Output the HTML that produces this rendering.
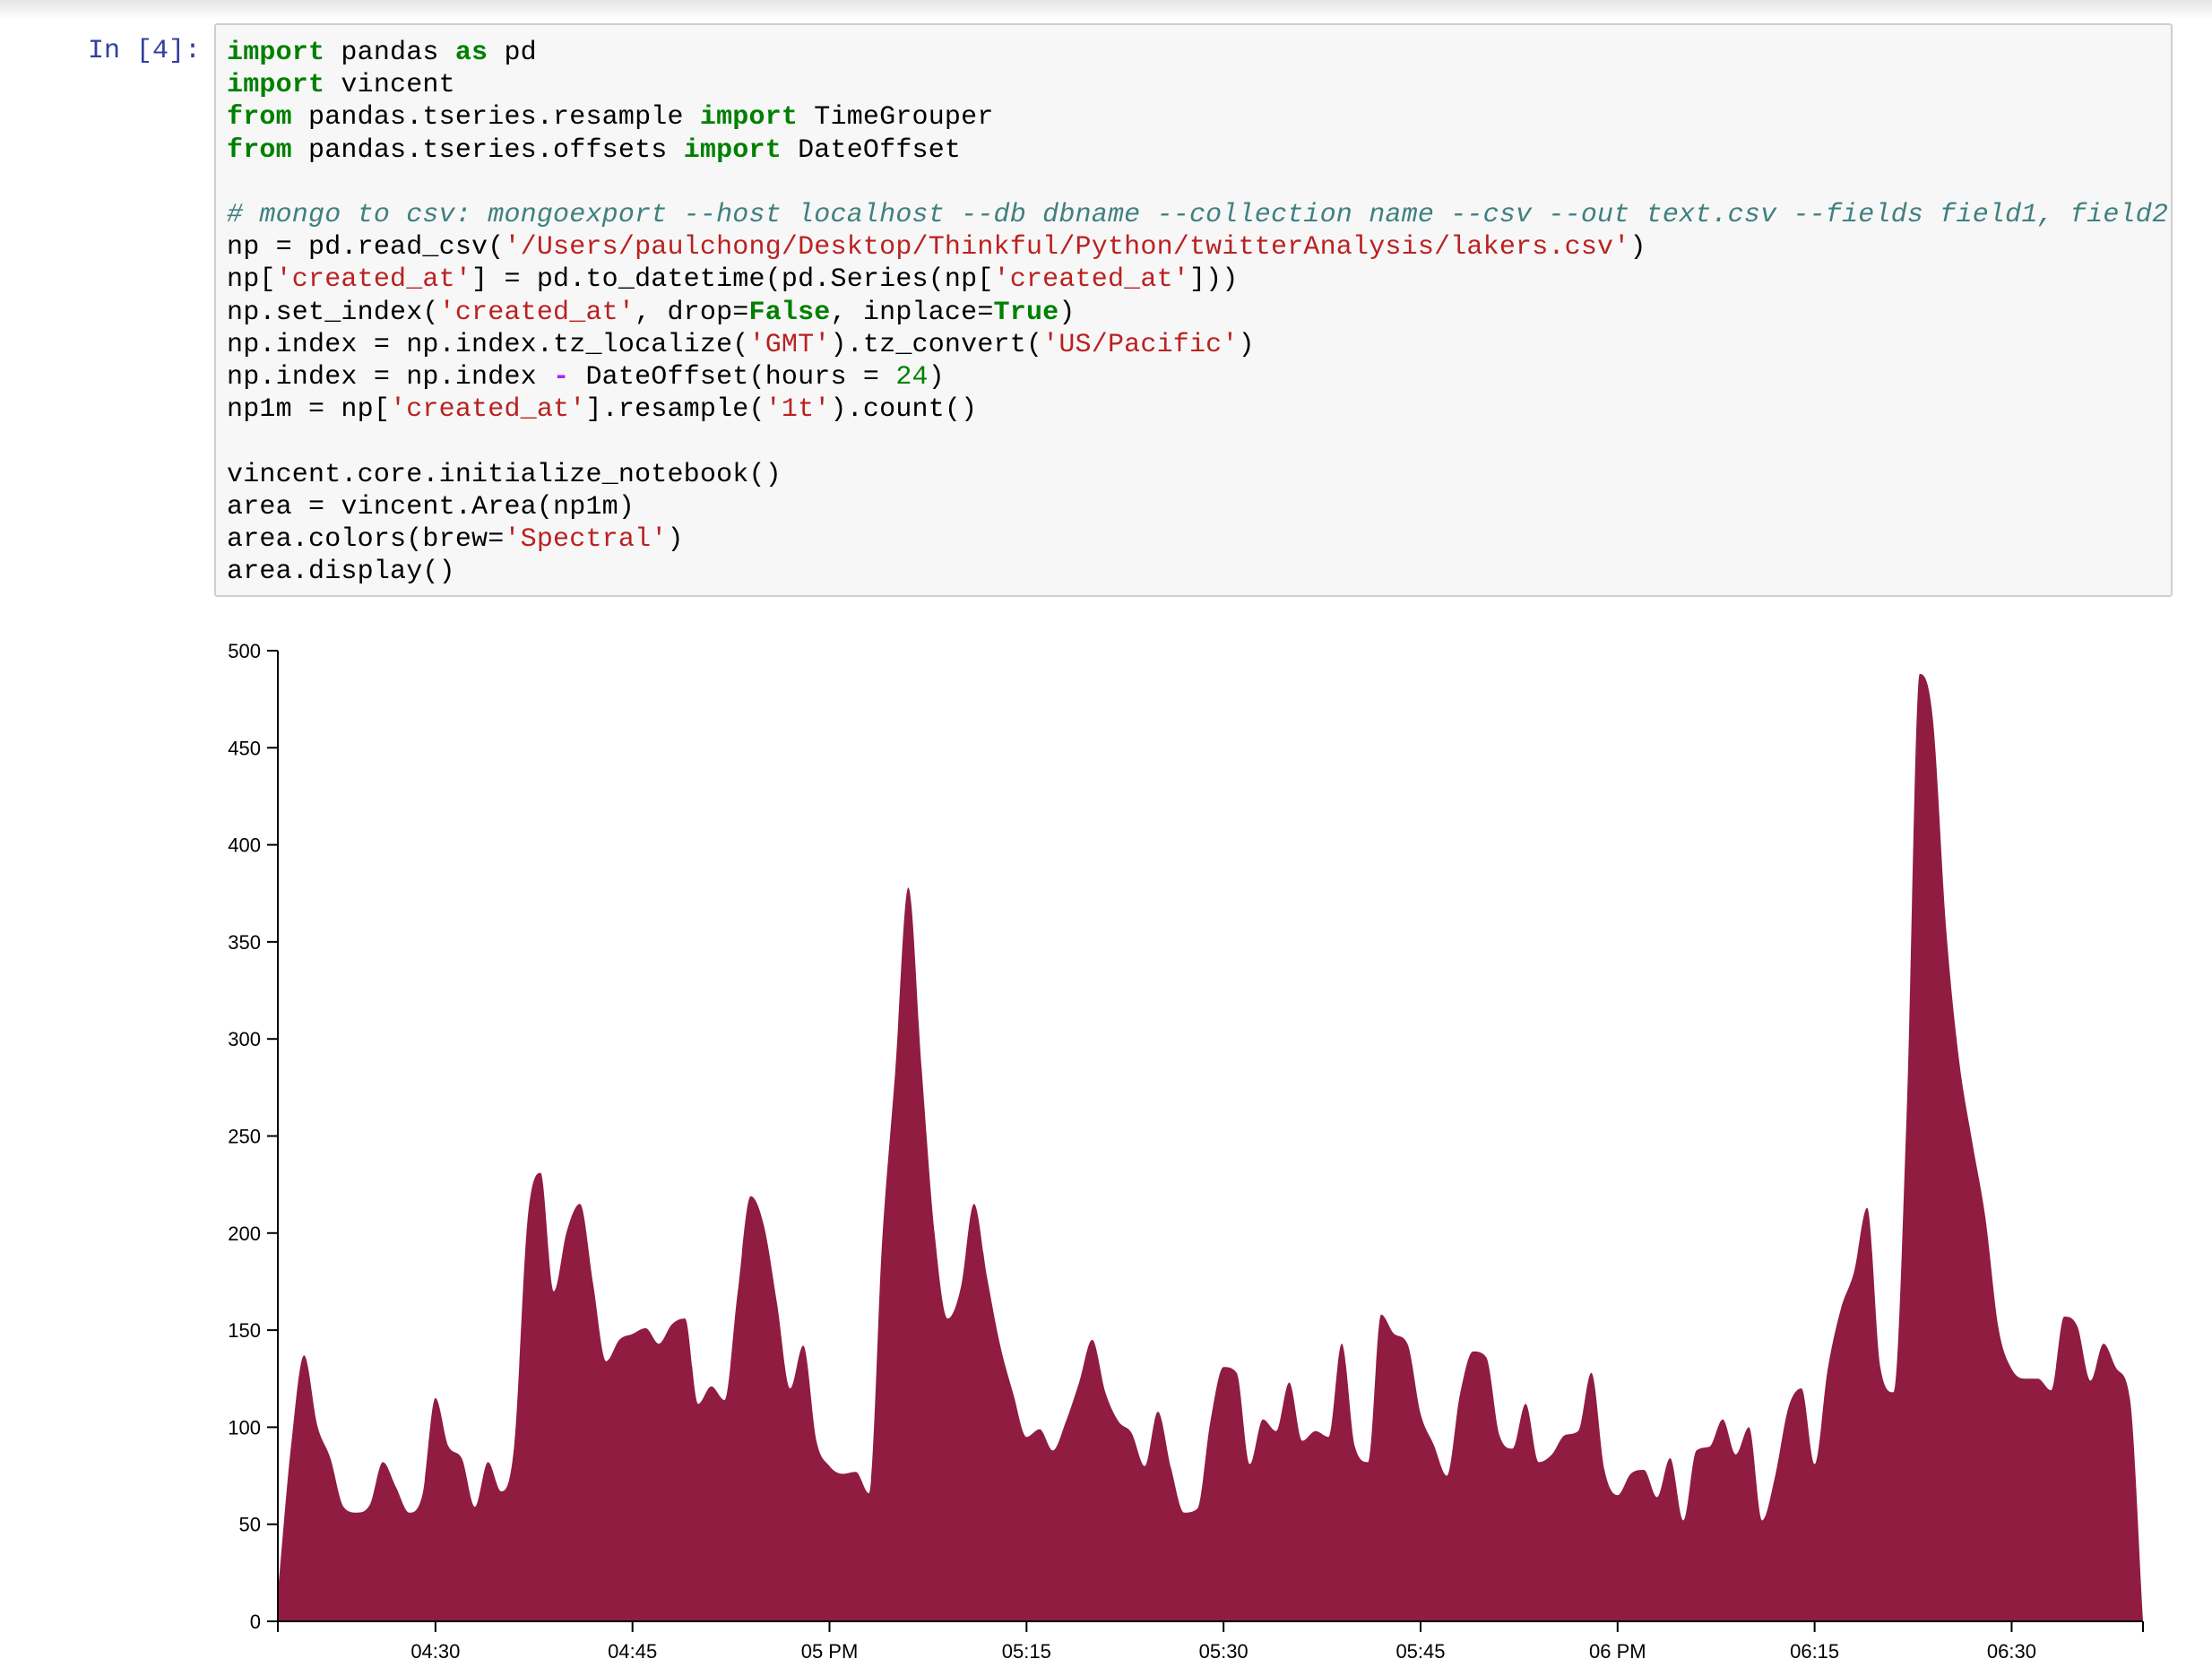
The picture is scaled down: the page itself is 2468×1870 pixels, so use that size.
<!DOCTYPE html>
<html><head><meta charset="utf-8"><style>
html,body{margin:0;padding:0;width:2468px;height:1870px;background:#fff;overflow:hidden;position:relative}
.topbar{position:absolute;left:0;top:0;width:2468px;height:22px;background:linear-gradient(#e6e6e6,#fff)}
.prompt{position:absolute;left:60px;top:39px;width:164px;text-align:right;font:30px/36.2px "Liberation Mono",monospace;color:#303f9f}
.cell{position:absolute;left:239px;top:26px;width:2185px;height:640px;background:#f7f7f7;border:2px solid #cfcfcf;border-radius:3px;box-sizing:border-box}
.code{position:absolute;left:253px;top:41px;margin:0;font:30px/36.2px "Liberation Mono",monospace;color:#000;white-space:pre;letter-spacing:0.2px}
.k{color:#008000;font-weight:bold}.s{color:#ba2121}.c{color:#408080;font-style:italic}.n{color:#008000}.o{color:#aa22ff;font-weight:bold}
svg{position:absolute;left:0;top:0}
</style></head><body>
<div class="topbar"></div>
<div class="prompt">In [4]:</div>
<div class="cell"></div>
<pre class="code"><span class="k">import</span> pandas <span class="k">as</span> pd
<span class="k">import</span> vincent
<span class="k">from</span> pandas.tseries.resample <span class="k">import</span> TimeGrouper
<span class="k">from</span> pandas.tseries.offsets <span class="k">import</span> DateOffset

<span class="c"># mongo to csv: mongoexport --host localhost --db dbname --collection name --csv --out text.csv --fields field1, field2</span>
np = pd.read_csv(<span class="s">'/Users/paulchong/Desktop/Thinkful/Python/twitterAnalysis/lakers.csv'</span>)
np[<span class="s">'created_at'</span>] = pd.to_datetime(pd.Series(np[<span class="s">'created_at'</span>]))
np.set_index(<span class="s">'created_at'</span>, drop=<span class="k">False</span>, inplace=<span class="k">True</span>)
np.index = np.index.tz_localize(<span class="s">'GMT'</span>).tz_convert(<span class="s">'US/Pacific'</span>)
np.index = np.index <span class="o">-</span> DateOffset(hours = <span class="n">24</span>)
np1m = np[<span class="s">'created_at'</span>].resample(<span class="s">'1t'</span>).count()

vincent.core.initialize_notebook()
area = vincent.Area(np1m)
area.colors(brew=<span class="s">'Spectral'</span>)
area.display()</pre>
<svg id="chart" width="2468" height="1870"></svg>
<script>
const startMinute = 16*60+18;
const counts = [15,90,137,101,84,59,56,60,82,69,56,65,115,90,84,59,82,67,91,206,231,170,201,215,174,134,145,148,151,143,
153,156,112,121,114,169,219,204,164,120,142,93,80,76,77,66,195,283,378,286,200,156,172,215,177,142,117,95,99,88,
103,123,145,118,103,97,80,108,79,56,58,103,131,128,81,104,98,123,93,98,95,143,90,82,158,148,143,107,91,75,
117,139,136,96,89,112,82,86,96,98,128,78,65,76,78,64,84,52,88,90,104,86,100,52,75,110,120,81,130,161,
180,213,131,118,260,488,465,358,289,247,208,151,130,125,125,119,157,152,124,143,130,115,0];
const yTicks = [0,50,100,150,200,250,300,350,400,450,500];
const xTickMinutes = [16*60+30,16*60+45,17*60,17*60+15,17*60+30,17*60+45,18*60,18*60+15,18*60+30];
const xTickLabels = ["04:30","04:45","05 PM","05:15","05:30","05:45","06 PM","06:15","06:30"];

const NS="http://www.w3.org/2000/svg";
const svg=document.getElementById('chart');
const X0=310,X1=2391,Y0=1809,Y1=726;
const endMinute=startMinute+counts.length-1;
const xs=m=>X0+(m-startMinute)/(endMinute-startMinute)*(X1-X0);
const ys=v=>Y0-(v/500)*(Y0-Y1);
function mk(t,a){const e=document.createElementNS(NS,t);for(const k in a)e.setAttribute(k,a[k]);svg.appendChild(e);return e;}
const P=counts.map((v,i)=>[xs(startMinute+i),ys(v)]);
const n=P.length,d=[],m=[];
for(let i=0;i<n-1;i++)d.push((P[i+1][1]-P[i][1])/(P[i+1][0]-P[i][0]));
m[0]=d[0];m[n-1]=d[n-2];
for(let i=1;i<n-1;i++){m[i]=(d[i-1]*d[i]<=0)?0:(d[i-1]+d[i])/2;}
for(let i=0;i<n-1;i++){if(d[i]===0){m[i]=0;m[i+1]=0;continue;}const a=m[i]/d[i],b=m[i+1]/d[i],s=a*a+b*b;if(s>9){const t=3/Math.sqrt(s);m[i]=t*a*d[i];m[i+1]=t*b*d[i];}}
let path=`M${P[0][0]},${Y0}L${P[0][0]},${P[0][1]}`;
for(let i=0;i<n-1;i++){const h=(P[i+1][0]-P[i][0])/3;path+=`C${P[i][0]+h},${P[i][1]+h*m[i]} ${P[i+1][0]-h},${P[i+1][1]-h*m[i+1]} ${P[i+1][0]},${P[i+1][1]}`;}
path+=`L${P[n-1][0]},${Y0}Z`;
const area=mk('path',{d:path,fill:'#901c42'});


const ya=mk('line',{x1:X0,y1:Y1,x2:X0,y2:Y0,stroke:'#000','stroke-width':2});


const xa=mk('line',{x1:X0,y1:Y0,x2:X1,y2:Y0,stroke:'#000','stroke-width':2});


yTicks.forEach(v=>{
  const tk=mk('line',{x1:X0-12,y1:ys(v),x2:X0,y2:ys(v),stroke:'#000','stroke-width':2});
  
  
  const t=mk('text',{x:X0-19,y:ys(v)+8,'text-anchor':'end','font-family':'Liberation Sans, sans-serif','font-size':22,fill:'#000'});
  t.textContent=v;
  
  
});
const ends=[startMinute,endMinute];
ends.forEach(mm=>{const tk=mk('line',{x1:xs(mm),y1:Y0,x2:xs(mm),y2:Y0+12,stroke:'#000','stroke-width':2});
  
  });
xTickMinutes.forEach((mm,i)=>{
  const tk=mk('line',{x1:xs(mm),y1:Y0,x2:xs(mm),y2:Y0+12,stroke:'#000','stroke-width':2});
  
  
  const t=mk('text',{x:xs(mm),y:Y0+41,'text-anchor':'middle','font-family':'Liberation Sans, sans-serif','font-size':22,fill:'#000'});
  t.textContent=xTickLabels[i];
  
  
});
</script>
</body></html>
